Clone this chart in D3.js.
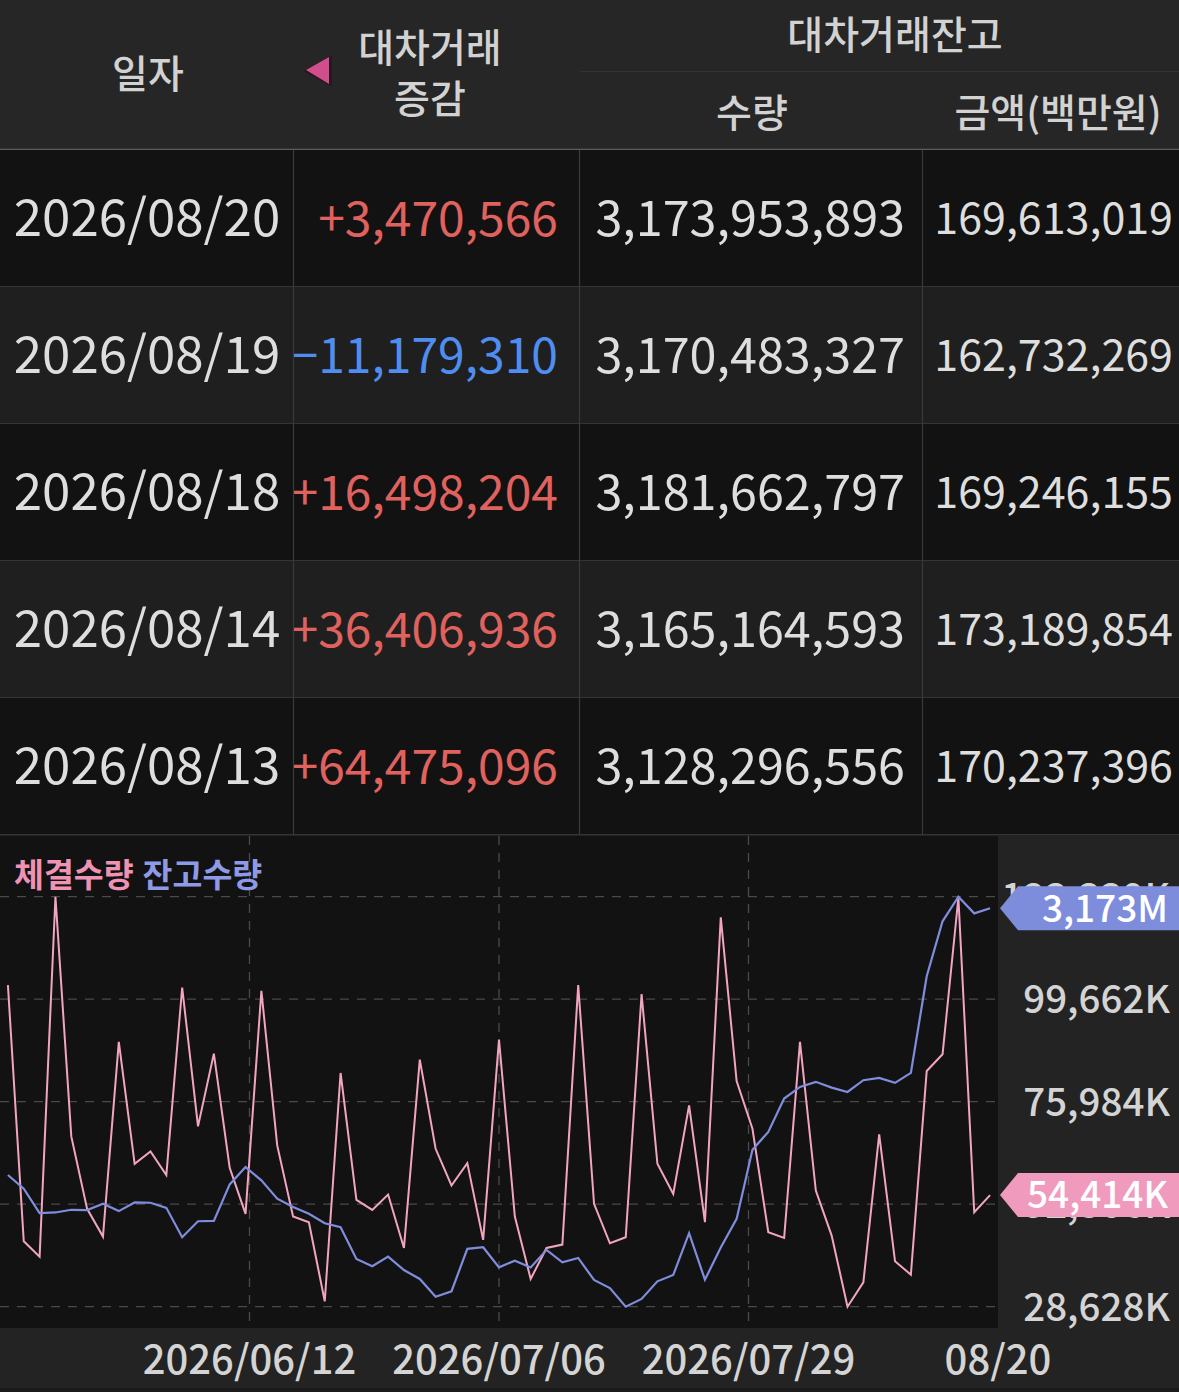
<!DOCTYPE html>
<html><head><meta charset="utf-8">
<script src="https://cdn.jsdelivr.net/npm/d3@7"></script>
<style>html,body{margin:0;padding:0;background:#121212;}svg{display:block;}</style>
</head><body>
<script>
// ---------- table data ----------
const tableDates = ["2026/08/20","2026/08/19","2026/08/18","2026/08/14","2026/08/13"];
const tableChange = [3470566, -11179310, 16498204, 36406936, 64475096];
const tableQty = [3173953893, 3170483327, 3181662797, 3165164593, 3128296556];
const tableAmt = [169613019, 162732269, 169246155, 173189854, 170237396];

// ---------- chart data ----------
const dates = ["2026/05/20","2026/05/21","2026/05/22","2026/05/26","2026/05/27","2026/05/28","2026/05/29","2026/06/01","2026/06/02","2026/06/04",
"2026/06/05","2026/06/08","2026/06/09","2026/06/10","2026/06/11","2026/06/12","2026/06/15","2026/06/16","2026/06/17","2026/06/18",
"2026/06/19","2026/06/22","2026/06/23","2026/06/24","2026/06/25","2026/06/26","2026/06/29","2026/06/30","2026/07/01","2026/07/02",
"2026/07/03","2026/07/06","2026/07/07","2026/07/08","2026/07/09","2026/07/10","2026/07/13","2026/07/14","2026/07/15","2026/07/16",
"2026/07/20","2026/07/21","2026/07/22","2026/07/23","2026/07/24","2026/07/27","2026/07/28","2026/07/29","2026/07/30","2026/07/31",
"2026/08/03","2026/08/04","2026/08/05","2026/08/06","2026/08/07","2026/08/10","2026/08/11","2026/08/12","2026/08/13","2026/08/14",
"2026/08/18","2026/08/19","2026/08/20"];
// 체결수량 (thousand shares)
const volumeK = [102904,43745,40198,123339,67964,51227,44825,89792,61640,64493,
59017,102364,70278,87093,60714,50070,101593,65882,49453,48142,
29862,82619,53310,50996,54544,42203,85704,65110,56626,61794,
44054,90332,49453,35030,42203,42974,102904,52384,43283,44671,
100822,61640,54698,75137,48142,118562,80768,69738,45828,44517,
89792,55469,45057,28628,34258,68427,39118,36032,83082,86938,
123100,50456,54414];
// 잔고수량 (million shares)
const balanceM = [2995.0,2985.8,2969.4,2969.9,2971.7,2971.5,2975.7,2970.8,2976.6,2976.4,
2973.0,2953.3,2964.0,2964.2,2988.7,3000.3,2991.4,2979.1,2973.5,2969.0,
2962.7,2960.0,2938.7,2933.8,2940.3,2931.3,2925.3,2913.4,2917.0,2945.5,
2946.6,2933.1,2937.6,2933.0,2944.8,2936.5,2939.4,2924.6,2919.2,2906.7,
2911.9,2923.7,2928.0,2956.0,2924.8,2946.4,2965.6,3012.0,3023.9,3046.3,
3054.1,3057.5,3053.6,3050.7,3058.6,3060.1,3056.8,3063.5,3128.30,3165.16,
3181.66,3170.48,3173.95];
const yTickValues = [28628, 52306, 75984, 99662, 123339];
const yTickLabels = ["28,628K","52,306K","75,984K","99,662K","123,339K"];
const xTickLabels = ["2026/06/12","2026/07/06","2026/07/29","08/20"];
const headerCols = ["일자","대차거래","증감","대차거래잔고","수량","금액(백만원)"];
const legendLabels = ["체결수량","잔고수량"];

// ---------- drawing ----------
const W = 1179, H = 1392;
const FONT = "'Noto Sans CJK KR','Noto Sans',sans-serif";
const svg = d3.select("body").append("svg").attr("width", W).attr("height", H)
  .style("font-family", FONT);

const C = {
  header:"#262626", rowDark:"#121212", rowLight:"#1f1f1f", border:"#353535",
  text:"#dedede", up:"#e0625f", down:"#4f8ef0", pink:"#f2a5c2", blue:"#7f8ddc",
  pinkBadge:"#f09bbd", blueBadge:"#7e8cdc", grid:"#4a4a4a", panel:"#232323"
};

// header
svg.append("rect").attr("x",0).attr("y",0).attr("width",W).attr("height",149).attr("fill",C.header);
svg.append("line").attr("x1",580).attr("x2",W).attr("y1",71.5).attr("y2",71.5).attr("stroke","#333").attr("stroke-width",1.2);
const hdr = svg.append("g").attr("fill","#d2d2d2").attr("font-size",39).attr("font-weight",500).attr("text-anchor","middle");
hdr.append("text").attr("x",148).attr("y",88).text(headerCols[0]);
hdr.append("text").attr("x",430).attr("y",62).text(headerCols[1]);
hdr.append("text").attr("x",430).attr("y",113).text(headerCols[2]);
hdr.append("text").attr("x",895).attr("y",49).text(headerCols[3]);
hdr.append("text").attr("x",752).attr("y",127).text(headerCols[4]);
hdr.append("text").attr("x",1058).attr("y",127).text(headerCols[5]);
svg.append("path").attr("d","M303,71 L332,55 L332,87 Z").attr("fill","#2a1620");
svg.append("path").attr("d","M306,70 L329,57 L329,84 Z").attr("fill","#cf4e8b");
svg.append("line").attr("x1",0).attr("x2",W).attr("y1",149.5).attr("y2",149.5).attr("stroke","#5c5c5c").attr("stroke-width",1.5);

// rows
const rowH = 137, row0 = 150;
const fmt = d3.format(",");
const rows = svg.append("g").selectAll("g").data(tableDates).join("g")
  .attr("transform",(d,i)=>`translate(0,${row0+i*rowH})`);
rows.append("rect").attr("width",W).attr("height",rowH).attr("fill",(d,i)=>i%2?C.rowLight:C.rowDark);
rows.append("line").attr("x1",0).attr("x2",W).attr("y1",rowH-0.5).attr("y2",rowH-0.5).attr("stroke",C.border).attr("stroke-width",1.2);
rows.append("text").attr("x",147).attr("y",86).attr("text-anchor","middle").attr("font-size",51).attr("fill",C.text).text(d=>d);
rows.append("text").attr("x",558).attr("y",86).attr("text-anchor","end").attr("font-size",48)
  .attr("fill",(d,i)=>tableChange[i]>=0?C.up:C.down)
  .text((d,i)=>(tableChange[i]>=0?"+":"\u2212")+fmt(Math.abs(tableChange[i])));
rows.append("text").attr("x",905).attr("y",86).attr("text-anchor","end").attr("font-size",48.5).attr("fill",C.text).text((d,i)=>fmt(tableQty[i]));
rows.append("text").attr("x",1173).attr("y",84).attr("text-anchor","end").attr("font-size",43).attr("fill",C.text).text((d,i)=>fmt(tableAmt[i]));
[293.5,579.5,922.5].forEach(x=>svg.append("line").attr("x1",x).attr("x2",x).attr("y1",150).attr("y2",835).attr("stroke","#3a3a3a").attr("stroke-width",1.2));

// chart panel
const plot = {left:0, right:998, top:836, bottom:1328};
svg.append("rect").attr("x",0).attr("y",835).attr("width",W).attr("height",H-835).attr("fill",C.panel);
svg.append("rect").attr("x",plot.left).attr("y",plot.top).attr("width",plot.right-plot.left).attr("height",plot.bottom-plot.top).attr("fill","#121212");
svg.append("rect").attr("x",0).attr("y",1388).attr("width",W).attr("height",4).attr("fill","#1a1a1a");

const x = d3.scalePoint().domain(dates).range([plot.left, plot.right]).padding(0.5);
const yV = d3.scaleLinear().domain([yTickValues[0], yTickValues[yTickValues.length-1]]).range([1306.7, 896.7]);
const yB = d3.scaleLinear().domain(d3.extent(balanceM)).range([1306.7, 896.7]);
const slot = d3.scaleLinear().domain([0, xTickLabels.length]).range([plot.left, plot.right]);

// grid
const grid = svg.append("g").attr("stroke",C.grid).attr("stroke-width",1.3).attr("stroke-dasharray","9,8");
grid.selectAll("line.h").data(yTickValues).join("line").attr("class","h")
  .attr("x1",plot.left).attr("x2",plot.right).attr("y1",d=>yV(d)).attr("y2",d=>yV(d));
grid.selectAll("line.v").data(xTickLabels.slice(0,-1)).join("line").attr("class","v")
  .attr("x1",(d,i)=>slot(i+1)).attr("x2",(d,i)=>slot(i+1)).attr("y1",plot.top).attr("y2",plot.bottom);

// lines
const lineV = d3.line().x((d,i)=>x(dates[i])).y(d=>yV(d));
const lineB = d3.line().x((d,i)=>x(dates[i])).y(d=>yB(d));
svg.append("path").datum(volumeK).attr("d",lineV).attr("fill","none").attr("stroke",C.pink).attr("stroke-width",2).attr("stroke-linejoin","miter");
svg.append("path").datum(balanceM).attr("d",lineB).attr("fill","none").attr("stroke",C.blue).attr("stroke-width",2.2).attr("stroke-linejoin","miter");

// legend
const lg = svg.append("text").attr("x",14).attr("y",887).attr("font-size",32.5).attr("font-weight",700);
lg.append("tspan").attr("fill","#ef93b5").text(legendLabels[0]);
lg.append("tspan").attr("fill","#8f9ae6").attr("dx",9).text(legendLabels[1]);

// y axis labels
svg.append("g").selectAll("text").data(yTickValues).join("text")
  .attr("x",1170).attr("y",d=>yV(d)).attr("dy","0.36em").attr("text-anchor","end")
  .attr("font-size",38.5).attr("font-weight",500).attr("fill","#d4d4d4").text((d,i)=>yTickLabels[i]);

// x axis labels
svg.append("g").selectAll("text").data(xTickLabels).join("text")
  .attr("x",(d,i)=>slot(i+1)).attr("y",1374).attr("text-anchor","middle")
  .attr("font-size",40).attr("font-weight",500).attr("fill","#d4d4d4").text(d=>d);

// badges
function badge(yc, color, label){
  const g = svg.append("g");
  g.append("path").attr("d",`M1000,${yc} L1018,${yc-22} L${W},${yc-22} L${W},${yc+22} L1018,${yc+22} Z`).attr("fill",color);
  g.append("text").attr("x",1168).attr("y",yc).attr("dy","0.36em").attr("text-anchor","end")
    .attr("font-size",37).attr("font-weight",500).attr("fill","#ffffff").text(label);
}
const lastV = volumeK[volumeK.length-1], lastB = balanceM[balanceM.length-1];
badge(yB(lastB), C.blueBadge, fmt(Math.floor(lastB))+"M");
badge(yV(lastV), C.pinkBadge, fmt(lastV)+"K");
</script>
</body></html>
